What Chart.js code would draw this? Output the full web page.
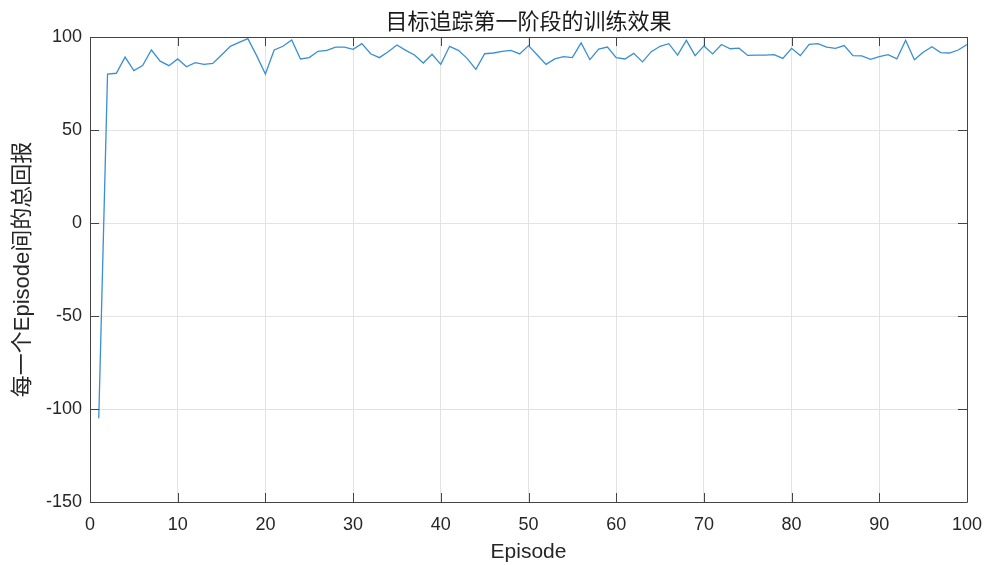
<!DOCTYPE html>
<html>
<head>
<meta charset="utf-8">
<script src="https://cdn.jsdelivr.net/npm/chart.js@4/dist/chart.umd.min.js"></script>
<style>
  html, body { margin: 0; padding: 0; background: #fff; }
  canvas { display: block; }
</style>
</head>
<body>
<canvas id="rewardChart" width="987" height="565"></canvas>
<script>
// chart data
const chartTitle = '目标追踪第一阶段的训练效果';
const xLabel = 'Episode';
const yLabel = '每一个Episode间的总回报';
const xTicks = [0, 10, 20, 30, 40, 50, 60, 70, 80, 90, 100];
const yTicks = [-150, -100, -50, 0, 50, 100];
const episodes = Array.from({length: 100}, (_, i) => i + 1);
const totalReward = [
    -105, 80.1, 80.5, 89.2, 81.9, 84.6, 93, 87, 84.6, 88.2,
    84, 86.2, 85.3, 85.8, 90.3, 95, 97.1, 99.1, 90, 80.1,
    93, 95, 98.4, 88.2, 88.9, 92.3, 92.8, 94.6, 94.6, 93.4,
    96.4, 91, 88.9, 92.1, 95.7, 92.8, 90.3, 86, 90.7, 85.3,
    95, 92.8, 88.5, 82.6, 91, 91.4, 92.3, 92.8, 90.9, 95.4,
    90.3, 85.3, 88.2, 89.4, 88.9, 96.8, 87.8, 93.5, 94.6, 88.9,
    88.2, 91.2, 86.6, 92.1, 95, 96.4, 90.3, 98.2, 90, 95.2,
    90.9, 96, 93.7, 94, 90.1, 90.3, 90.3, 90.5, 88.5, 93.9,
    90, 96, 96.4, 94.6, 93.9, 95.4, 90, 89.8, 88, 89.4,
    90.5, 88.2, 98.2, 87.8, 91.8, 94.8, 91.6, 91.4, 93, 96
];

const fontFamily = '"Liberation Sans", Arial, "Noto Sans CJK SC", sans-serif';
const textColor = '#262626';

// box around the axes with inward ticks, plus the title
const frame = {
    id: 'frame',
    afterDraw(chart) {
        const ctx = chart.ctx;
        const a = chart.chartArea;
        const xs = chart.scales.x, ys = chart.scales.y;
        const len = 9;
        ctx.save();
        ctx.strokeStyle = '#444';
        ctx.lineWidth = 1;
        ctx.beginPath();
        ctx.rect(Math.round(a.left) + 0.5, Math.round(a.top) + 0.5,
                 Math.round(a.right - a.left), Math.round(a.bottom - a.top));
        xTicks.forEach(v => {
            const x = Math.round(xs.getPixelForValue(v)) + 0.5;
            ctx.moveTo(x, a.bottom); ctx.lineTo(x, a.bottom - len);
            ctx.moveTo(x, a.top); ctx.lineTo(x, a.top + len);
        });
        yTicks.forEach(v => {
            const y = Math.round(ys.getPixelForValue(v)) + 0.5;
            ctx.moveTo(a.left, y); ctx.lineTo(a.left + len, y);
            ctx.moveTo(a.right, y); ctx.lineTo(a.right - len, y);
        });
        ctx.stroke();

        ctx.fillStyle = '#1a1a1a';
        ctx.font = '22px "Noto Sans CJK SC", sans-serif';
        ctx.textAlign = 'center';
        ctx.textBaseline = 'middle';
        ctx.fillText(chartTitle, (a.left + a.right) / 2, 21);
        ctx.restore();
    }
};

new Chart(document.getElementById('rewardChart'), {
    type: 'line',
    data: {
        datasets: [{
            data: episodes.map((e, i) => ({x: e, y: totalReward[i]})),
            borderColor: '#3a8fd0',
            borderWidth: 1.3,
            pointRadius: 0,
            tension: 0,
            fill: false
        }]
    },
    options: {
        responsive: false,
        devicePixelRatio: 1,
        animation: false,
        layout: { padding: { top: 37, right: 20, left: 0, bottom: 0 } },
        plugins: {
            legend: { display: false },
            title: { display: false },
            tooltip: { enabled: false }
        },
        scales: {
            x: {
                type: 'linear',
                min: 0,
                max: 100,
                afterBuildTicks: s => { s.ticks = xTicks.map(v => ({value: v})); },
                afterFit: s => { s.height = 63; s.paddingLeft = 0; s.paddingRight = 0; },
                grid: { color: '#e3e3e3', drawTicks: false },
                border: { display: false },
                ticks: { color: textColor, font: { family: fontFamily, size: 18 }, padding: 12, maxRotation: 0 },
                title: {
                    display: true, text: xLabel, color: textColor,
                    font: { family: fontFamily, size: 21 },
                    padding: { top: 0, bottom: 0 }
                }
            },
            y: {
                type: 'linear',
                min: -150,
                max: 100,
                afterBuildTicks: s => { s.ticks = yTicks.map(v => ({value: v})); },
                afterFit: s => { s.width = 90; s.paddingTop = 0; s.paddingBottom = 0; },
                grid: { color: '#e3e3e3', drawTicks: false },
                border: { display: false },
                ticks: { color: textColor, font: { family: fontFamily, size: 18 }, padding: 8 },
                title: {
                    display: true, text: yLabel, color: textColor,
                    font: { family: fontFamily, size: 22 },
                    padding: { top: 10, bottom: 0 }
                }
            }
        }
    },
    plugins: [frame]
});
</script>
</body>
</html>
